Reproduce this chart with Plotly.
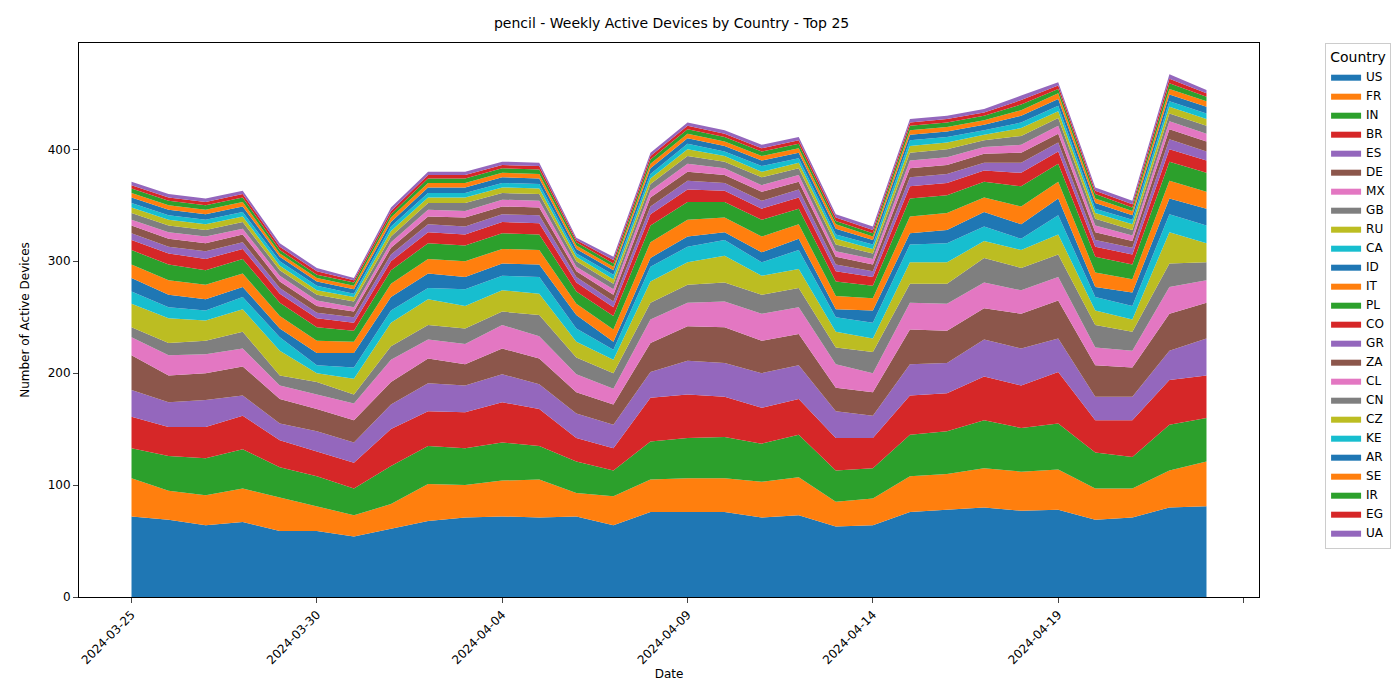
import pandas as pd
import plotly.graph_objects as go

dates = pd.date_range("2024-03-25", "2024-04-23", freq="D")

US = [72,69,64,67,59,59,54,61,68,71,72,71,72,64,76,76,76,71,73,63,64,76,78,80,77,78,69,71,80,81]
FR = [34,26,27,30,30,22,19,22,33,29,32,34,21,26,29,30,30,32,34,22,24,32,32,35,35,36,28,26,33,40]
IN = [27,31,33,35,27,27,24,34,34,33,34,30,28,23,34,36,37,34,38,28,27,37,38,43,39,41,32,28,41,39]
BR = [28,26,28,30,24,22,23,33,31,32,36,33,21,20,39,39,36,32,32,29,27,35,34,39,38,46,29,33,40,38]
ES = [24,22,24,18,15,18,18,22,25,24,25,22,22,21,23,30,30,31,30,24,20,28,27,33,33,30,21,21,26,33]
DE = [31,24,24,26,22,20,20,20,22,19,23,23,19,18,26,31,32,29,28,21,21,31,29,28,31,34,28,26,33,32]
MX = [16,18,17,16,12,13,15,20,17,18,21,20,16,14,21,21,23,24,24,21,17,24,24,23,21,21,16,15,24,20]
GB = [9,11,12,15,9,11,8,12,13,14,12,19,15,14,15,16,17,17,17,15,19,17,18,22,20,20,20,17,21,16]
RU = [21,22,18,20,22,8,14,21,23,20,19,19,14,12,19,20,24,17,17,14,12,19,19,15,16,18,13,11,28,17]
CA = [11,10,9,11,12,7,10,11,10,15,13,15,12,9,13,14,14,12,17,13,14,16,17,13,10,17,12,12,16,16]
ID = [12,11,10,9,8,11,13,12,13,11,11,11,12,7,8,9,7,9,10,7,11,10,12,13,13,15,9,12,14,15]
IT = [12,13,13,12,11,11,10,12,13,14,13,13,10,11,14,15,13,14,13,12,11,15,15,13,16,15,13,12,16,15]
PL = [13,14,13,13,12,12,10,12,14,14,14,14,11,12,15,16,14,15,14,13,11,16,16,14,18,16,14,13,17,17]
CO = [9,10,10,9,8,8,7,8,10,10,10,10,8,8,10,11,10,10,10,9,8,11,11,10,12,11,9,9,11,11]
GR = [6,6,7,6,5,5,5,6,7,7,7,7,5,5,7,8,7,7,7,6,5,8,8,7,9,8,6,6,9,8]
ZA = [7,7,7,7,6,6,5,6,7,8,7,7,5,6,8,8,7,8,7,7,6,8,8,8,9,8,7,6,9,9]
CL = [5,6,6,5,5,5,4,5,6,6,6,6,4,5,6,7,6,6,6,5,5,7,7,6,7,7,6,5,7,7]
CN = [6,6,6,6,5,5,5,5,6,7,6,6,5,5,6,7,6,7,6,6,5,7,7,6,8,7,6,5,7,7]
CZ = [5,5,5,5,4,4,4,5,5,5,5,5,4,4,5,6,5,5,5,5,4,6,6,5,7,6,5,5,6,6]
KE = [4,4,4,4,4,4,3,4,4,4,4,4,3,4,4,5,4,5,4,4,4,5,5,4,5,5,4,4,5,5]
AR = [5,5,5,5,4,4,4,4,5,5,5,5,4,4,5,5,5,5,5,5,4,5,5,5,6,6,5,4,6,6]
SE = [4,4,4,4,3,3,3,4,4,4,4,4,3,3,4,4,4,4,4,4,3,4,4,4,5,5,4,4,5,5]
IR = [4,4,4,4,3,3,3,3,4,4,4,4,3,3,4,4,4,4,4,3,3,4,4,4,5,4,4,3,5,4]
EG = [3,3,3,3,3,3,2,3,3,3,3,3,2,3,3,3,3,3,3,3,3,3,3,3,4,3,3,3,4,3]
UA = [3,3,3,3,3,3,2,3,3,3,3,3,2,3,3,3,3,3,3,3,3,3,3,3,4,3,3,3,4,3]

countries = ["US","FR","IN","BR","ES","DE","MX","GB","RU","CA","ID","IT","PL",
             "CO","GR","ZA","CL","CN","CZ","KE","AR","SE","IR","EG","UA"]
series = [US,FR,IN,BR,ES,DE,MX,GB,RU,CA,ID,IT,PL,CO,GR,ZA,CL,CN,CZ,KE,AR,SE,IR,EG,UA]

tick_dates = pd.date_range("2024-03-25", "2024-04-24", freq="5D")
tick_labels = [d.strftime("%Y-%m-%d") for d in tick_dates[:-1]] + [""]

tab10 = ["#1f77b4","#ff7f0e","#2ca02c","#d62728","#9467bd",
         "#8c564b","#e377c2","#7f7f7f","#bcbd22","#17becf"]

fig = go.Figure()
for i, (name, vals) in enumerate(zip(countries, series)):
    c = tab10[i % 10]
    fig.add_trace(go.Scatter(x=dates, y=vals, name=name, mode="lines",
                             stackgroup="one", line=dict(width=0, color=c),
                             fillcolor=c))

fig.update_layout(
    width=1400, height=700,
    paper_bgcolor="white", plot_bgcolor="white",
    font=dict(family="DejaVu Sans", size=12, color="black"),
    title=dict(text="pencil - Weekly Active Devices by Country - Top 25",
               x=0.474, y=0.978, xanchor="center", yanchor="middle",
               font=dict(size=14)),
    margin=dict(l=71, r=149, t=35, b=111, autoexpand=False),
    legend=dict(title=dict(text="Country", side="top center"), x=1.056, y=1.0,
                xanchor="left", yanchor="top", traceorder="normal",
                bordercolor="#cccccc", borderwidth=1,
                font=dict(size=12), tracegroupgap=0, itemwidth=30),
)
fig.update_xaxes(
    title=dict(text="Date", standoff=2, font=dict(size=12)),
    range=[pd.Timestamp("2024-03-23 14:00"), pd.Timestamp("2024-04-24 10:00")],
    tickvals=tick_dates, ticktext=tick_labels, tickangle=-45,
    showline=True, linecolor="black", mirror=True, ticks="outside",
    showgrid=False, zeroline=False,
)
fig.update_yaxes(
    title=dict(text="Number of Active Devices", font=dict(size=12)),
    range=[0, 495], dtick=100,
    showline=True, linecolor="black", mirror=True, ticks="outside",
    showgrid=False, zeroline=False,
)

fig.write_html("out.html")
